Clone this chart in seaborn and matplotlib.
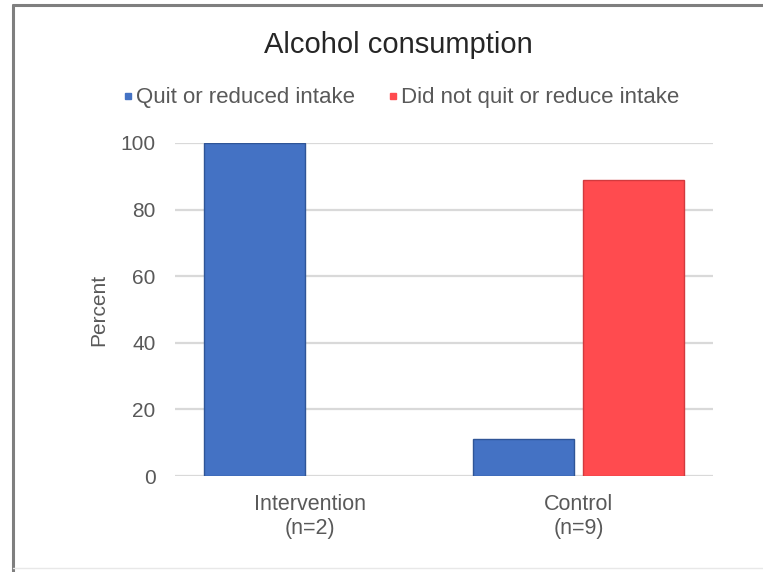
import matplotlib
matplotlib.use("Agg")
import matplotlib.pyplot as plt
from matplotlib.lines import Line2D
import seaborn as sns
import pandas as pd

groups = ["Intervention\n(n=2)", "Control\n(n=9)"]
series = ["Quit or reduced intake", "Did not quit or reduce intake"]
quit_vals = [100.0, 11.1]
not_quit_vals = [0.0, 88.9]
yticks = [0, 20, 40, 60, 80, 100]

colors = ["#4472C4", "#FF4B4F"]
edges = ["#2F5597", "#D23A3E"]

df = pd.DataFrame({
    "group": groups * 2,
    "series": [series[0]] * 2 + [series[1]] * 2,
    "value": quit_vals + not_quit_vals,
})

sns.set_theme(style="white")
plt.rcParams["font.family"] = ["Liberation Sans", "DejaVu Sans"]

W, H = 763, 572
fig = plt.figure(figsize=(W / 100, H / 100), dpi=100)
fig.patch.set_facecolor("white")
left, right, bottom, top = 175, 713, 476, 143
ax = fig.add_axes([left / W, 1 - bottom / H, (right - left) / W, (bottom - top) / H])

sns.barplot(data=df, x="group", y="value", hue="series", order=groups,
            hue_order=series, palette=colors, saturation=1, width=0.82,
            gap=0.09, ax=ax, legend=False, zorder=3)

for p in ax.patches:
    fc = matplotlib.colors.to_hex(p.get_facecolor())
    idx = 0 if fc.lower() == colors[0].lower() else 1
    p.set_edgecolor(edges[idx])
    p.set_linewidth(1.0 if p.get_height() > 0 else 0.0)

ax.set_ylim(0, 100)
ax.set_xlim(-0.5, 1.5)
ax.set_yticks(yticks)
ax.set_yticklabels([str(t) for t in yticks])
ax.yaxis.grid(True, color="#D9D9D9", linewidth=1.6, zorder=0)
ax.set_axisbelow(True)
for s in ax.spines.values():
    s.set_visible(False)
ax.tick_params(axis="y", length=0, labelsize=15, colors="#595959", pad=14)
ax.tick_params(axis="x", length=0, labelsize=15.5, colors="#595959", pad=13)
for lab in ax.get_xticklabels():
    lab.set_linespacing(1.2)
ax.set_xlabel("")
ax.set_ylabel("Percent", fontsize=15, color="#595959")
ax.yaxis.set_label_coords(-0.125, 0.5)

fig.text(398 / W, 1 - 45 / H, "Alcohol consumption", ha="center", va="center",
         fontsize=21, color="#262626")

handles = [Line2D([0], [0], marker="s", linestyle="none", markersize=5,
                  markerfacecolor=c, markeredgecolor=c) for c in colors]
fig.legend(handles, series, loc="center", bbox_to_anchor=(401 / W, 1 - 98 / H),
           ncol=2, frameon=False, fontsize=16, handlelength=0.45,
           handletextpad=0.12, columnspacing=1.5, labelcolor="#595959")

# outer frame of the original image
fig.add_artist(Line2D([13 / W, 1], [1 - 5 / H, 1 - 5 / H], color="#7F7F7F",
                      linewidth=2.2, transform=fig.transFigure))
fig.add_artist(Line2D([13 / W, 13 / W], [0, 1 - 5 / H], color="#7F7F7F",
                      linewidth=2.2, transform=fig.transFigure))
fig.add_artist(Line2D([13 / W, 1], [4 / H, 4 / H], color="#E8E8E8",
                      linewidth=1.0, transform=fig.transFigure))

fig.savefig("out.png", dpi=100, facecolor="white")
